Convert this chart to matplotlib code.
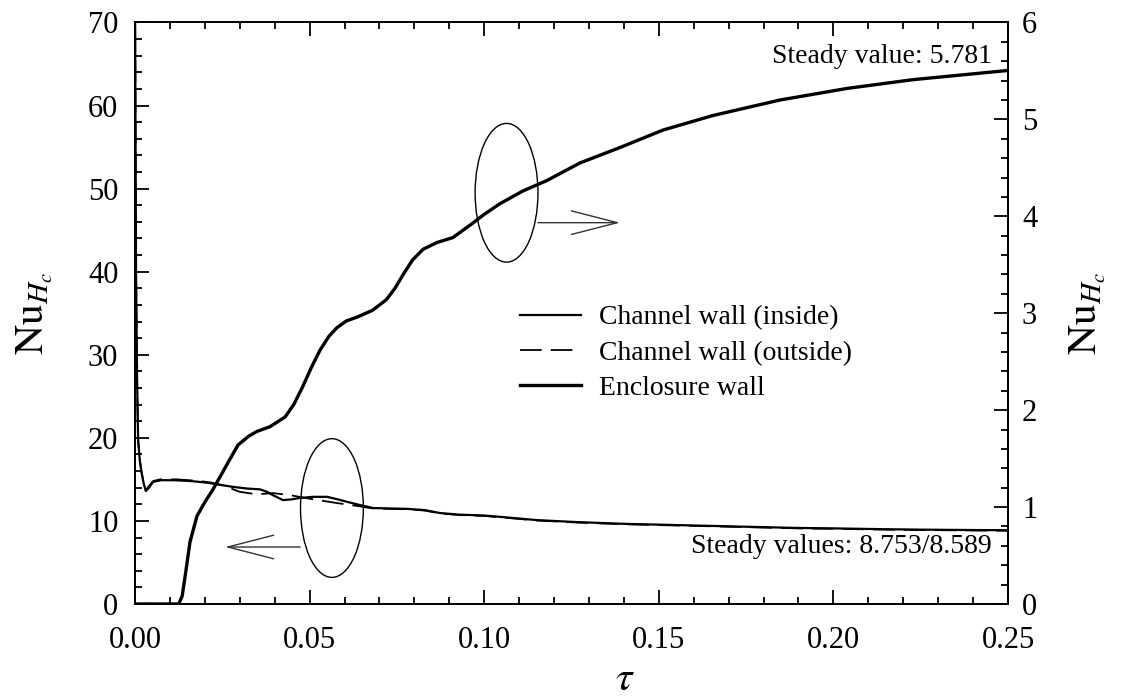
import numpy as np
import matplotlib
matplotlib.use("Agg")
import matplotlib.pyplot as plt
from matplotlib.patches import Ellipse
from matplotlib.lines import Line2D
from matplotlib.ticker import MultipleLocator

plt.rcParams['font.family'] = ['Liberation Serif', 'DejaVu Serif']
plt.rcParams['mathtext.fontset'] = 'stix'

# Channel wall (inside), left axis
tau_in = [0.0, 0.0003, 0.0006, 0.0009, 0.0014, 0.0019, 0.0025, 0.0031, 0.0040, 0.0052,
          0.0075, 0.011, 0.016, 0.0206, 0.025, 0.028, 0.032, 0.0358, 0.0378, 0.0395,
          0.0424, 0.045, 0.047, 0.051, 0.055, 0.058, 0.0607, 0.0645, 0.0682, 0.073,
          0.078, 0.083, 0.0873, 0.093, 0.1, 0.107, 0.115, 0.127, 0.14, 0.15,
          0.165, 0.175, 0.19, 0.2, 0.215, 0.225, 0.24, 0.25]
nu_in = [75, 40, 27, 19.7, 17.2, 15.8, 14.5, 13.6, 14.0, 14.7,
         14.9, 14.9, 14.8, 14.6, 14.3, 14.1, 13.9, 13.8, 13.5, 13.1,
         12.5, 12.6, 12.75, 12.9, 12.9, 12.6, 12.3, 11.9, 11.55, 11.5,
         11.45, 11.3, 10.95, 10.75, 10.65, 10.4, 10.1, 9.85, 9.65, 9.55,
         9.4, 9.3, 9.15, 9.1, 9.0, 8.95, 8.9, 8.88]

# Channel wall (outside), left axis
tau_out = [0.0, 0.0003, 0.0006, 0.0009, 0.0014, 0.0019, 0.0025, 0.0031, 0.0040, 0.0052,
           0.0072, 0.012, 0.0186, 0.022, 0.025, 0.030, 0.0349, 0.0395, 0.0444, 0.051,
           0.0578, 0.0636, 0.0682, 0.073, 0.078, 0.083, 0.0873, 0.093, 0.1, 0.107,
           0.115, 0.127, 0.14, 0.15, 0.165, 0.175, 0.19, 0.2, 0.215, 0.225,
           0.24, 0.25]
nu_out = [75, 40, 27, 19.7, 17.2, 15.8, 14.5, 13.7, 14.2, 14.8,
          15.0, 15.0, 14.8, 14.6, 14.3, 13.5, 13.2, 13.35, 13.1, 12.6,
          12.15, 11.8, 11.5, 11.45, 11.4, 11.25, 10.9, 10.7, 10.6, 10.35,
          10.05, 9.8, 9.6, 9.5, 9.35, 9.25, 9.1, 9.05, 8.95, 8.9,
          8.85, 8.82]

# Enclosure wall, right axis
tau_enc = [0.0, 0.005, 0.010, 0.0125, 0.0135, 0.0145, 0.01575, 0.01775, 0.020, 0.0223,
           0.0265, 0.0295, 0.0325, 0.0349, 0.0387, 0.043, 0.0455, 0.048, 0.0505, 0.053,
           0.0555, 0.0578, 0.0605, 0.0636, 0.068, 0.072, 0.0745, 0.0768, 0.0795, 0.0825,
           0.0865, 0.091, 0.096, 0.1, 0.1045, 0.111, 0.118, 0.1274, 0.1389, 0.1512,
           0.1655, 0.1847, 0.204, 0.2228, 0.25]
nu_enc = [0.0, 0.0, 0.0, 0.0, 0.08, 0.32, 0.64, 0.907, 1.05, 1.18,
          1.45, 1.64, 1.73, 1.78, 1.83, 1.93, 2.06, 2.24, 2.44, 2.62,
          2.76, 2.85, 2.92, 2.96, 3.03, 3.14, 3.26, 3.40, 3.55, 3.66,
          3.73, 3.78, 3.91, 4.02, 4.13, 4.26, 4.37, 4.55, 4.71, 4.89,
          5.04, 5.20, 5.32, 5.41, 5.505]

labels = ['Channel wall (inside)', 'Channel wall (outside)', 'Enclosure wall']

fig = plt.figure(figsize=(11.23, 6.98), dpi=100)
ax = fig.add_axes([0.1202, 0.1347, 0.7774, 0.8331])
ax2 = ax.twinx()

ax.plot(tau_in, nu_in, color='black', lw=1.6, solid_joinstyle='round')
ax.plot(tau_out, nu_out, color='black', lw=1.3, dashes=(12, 5))
ax2.plot(tau_enc, nu_enc, color='black', lw=2.4, solid_joinstyle='round')

ax.set_xlim(0, 0.25)
ax.set_ylim(0, 70)
ax2.set_ylim(0, 6)

ax.xaxis.set_major_locator(MultipleLocator(0.05))
ax.xaxis.set_minor_locator(MultipleLocator(0.01))
ax.yaxis.set_major_locator(MultipleLocator(10))
ax.yaxis.set_minor_locator(MultipleLocator(2))
ax2.yaxis.set_major_locator(MultipleLocator(1))
ax2.yaxis.set_minor_locator(MultipleLocator(0.2))
ax.xaxis.set_major_formatter(plt.FuncFormatter(lambda v, p: f'{v:.2f}'))

for a in (ax, ax2):
    for s in a.spines.values():
        s.set_linewidth(1.3)
ax.tick_params(which='both', direction='in', top=True, right=False, labelsize=22, width=1.3)
ax.tick_params(which='major', length=10)
ax.tick_params(which='minor', length=5)
ax.tick_params(axis='x', which='major', pad=16)
ax.tick_params(axis='y', which='major', pad=12)
ax2.tick_params(which='both', direction='in', labelsize=22, width=1.3)
ax2.tick_params(which='major', length=10, pad=10)
ax2.tick_params(which='minor', length=5)

ax.set_xlabel(r'$\tau$', fontsize=30, va='baseline')
ax.xaxis.set_label_coords(0.561, -0.148)
ax.set_ylabel(r'$\mathrm{Nu}_{H_c}$', fontsize=30, labelpad=24)
ax2.set_ylabel(r'$\mathrm{Nu}_{H_c}$', fontsize=30, labelpad=22, rotation=90)

# ellipses and arrows marking which axis each group belongs to
ax.add_patch(Ellipse((0.0564, 11.55), 0.018, 16.7, fill=False, lw=1.0, color='black'))
ax.add_patch(Ellipse((0.1064, 49.5), 0.018, 16.7, fill=False, lw=1.0, color='black'))
ax.annotate('', xy=(0.0258, 6.86), xytext=(0.0473, 6.86),
            arrowprops=dict(arrowstyle='->,head_length=3.3,head_width=0.85',
                            color='#333333', lw=1.0, shrinkA=0, shrinkB=0))
ax.annotate('', xy=(0.1389, 45.9), xytext=(0.1154, 45.9),
            arrowprops=dict(arrowstyle='->,head_length=3.3,head_width=0.85',
                            color='#333333', lw=1.0, shrinkA=0, shrinkB=0))

ax.text(0.9817, 0.9407, 'Steady value: 5.781', transform=ax.transAxes,
        ha='right', va='center', fontsize=20)
ax.text(0.9817, 0.098, 'Steady values: 8.753/8.589', transform=ax.transAxes,
        ha='right', va='center', fontsize=20)

handles = [Line2D([], [], color='black', lw=1.6),
           Line2D([], [], color='black', lw=1.3, dashes=(12, 5)),
           Line2D([], [], color='black', lw=2.4)]
ax.legend(handles, labels, loc='upper left', bbox_to_anchor=(0.441, 0.514),
          frameon=False, fontsize=20, handlelength=2.2, handletextpad=0.65,
          labelspacing=0.35, borderpad=0, borderaxespad=0)

fig.savefig('out.png', dpi=100)
